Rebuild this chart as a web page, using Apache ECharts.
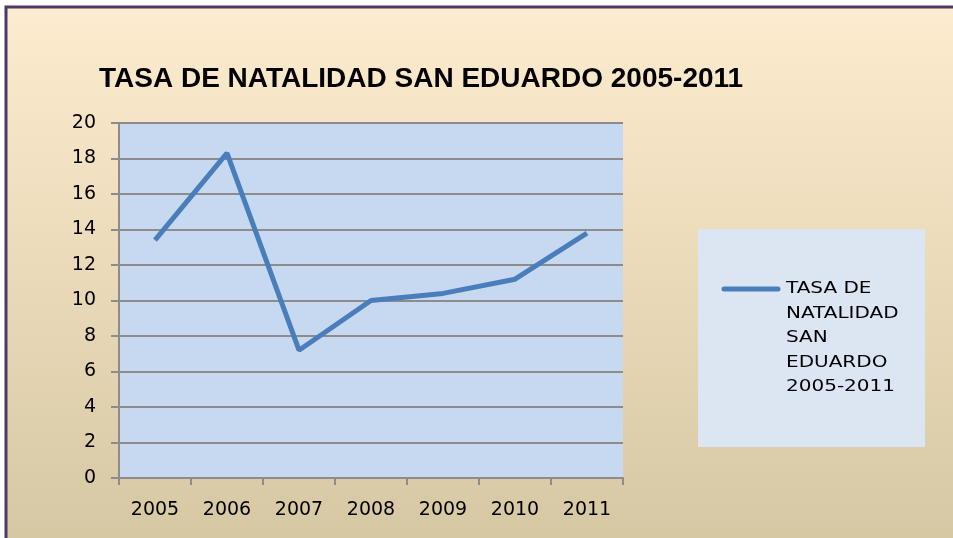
<!DOCTYPE html>
<html>
<head>
    <meta charset="utf-8">
    <title>Tasa de natalidad San Eduardo</title>
    <script src="https://cdn.jsdelivr.net/npm/echarts@6/dist/echarts.min.js"></script>
    <style>
        html, body {
            margin: 0;
            padding: 0;
            background: #ffffff;
        }

        #main {
            width: 953px;
            height: 538px;
        }
    </style>
</head>
<body>
<div id="main"></div>
<script type="text/javascript">
    var myChart = echarts.init(document.getElementById('main'));

    // datos
    const years = ['2005', '2006', '2007', '2008', '2009', '2010', '2011'];
    const natalidad = [13.4, 18.3, 7.2, 10.0, 10.4, 11.2, 13.8];
    const serieNombre = 'TASA DE NATALIDAD SAN EDUARDO 2005-2011';
    const leyendaLineas = ['TASA DE', 'NATALIDAD', 'SAN', 'EDUARDO', '2005-2011'];

    const lineColor = '#4a7ebb';
    const gridColor = '#8c8c8c';

    var option = {
        backgroundColor: '#ffffff',
        animation: false,
        graphic: [
            {
                type: 'rect',
                z: -10,
                shape: {x: 6, y: 7, width: 1000, height: 600},
                style: {
                    fill: new echarts.graphic.LinearGradient(0, 0, 0, 1, [
                        {offset: 0, color: '#fdeccf'},
                        {offset: 1, color: '#d2c39e'}
                    ]),
                    stroke: '#4b3b63',
                    lineWidth: 3
                }
            },
            // caja de la leyenda
            {
                type: 'rect',
                z: -5,
                shape: {x: 698, y: 229, width: 227, height: 218},
                style: {fill: '#dce6f2'}
            },
            {
                type: 'line',
                shape: {x1: 724, y1: 289, x2: 778, y2: 289},
                style: {stroke: lineColor, lineWidth: 5, lineCap: 'round'}
            },
            {
                type: 'text',
                x: 786,
                y: 277,
                scaleX: 1.25,
                style: {
                    text: leyendaLineas.join('\n'),
                    fontFamily: 'DejaVu Sans',
                    fontSize: 16,
                    lineHeight: 24.5,
                    fill: '#000000',
                    verticalAlign: 'top'
                }
            }
        ],
        title: {
            text: 'TASA DE NATALIDAD SAN EDUARDO 2005-2011',
            left: 94,
            top: 60,
            textStyle: {
                fontFamily: 'Liberation Sans',
                fontWeight: 'bold',
                fontSize: 28,
                color: '#000000'
            }
        },
        legend: {
            show: false,
            data: [serieNombre]
        },
        grid: {
            left: 119,
            right: 330,
            top: 123,
            bottom: 60,
            show: true,
            backgroundColor: '#c6d9f1',
            borderWidth: 0
        },
        xAxis: {
            type: 'category',
            data: years,
            boundaryGap: true,
            axisLine: {lineStyle: {color: gridColor, width: 2}},
            axisTick: {show: true, length: 7, lineStyle: {color: gridColor, width: 2}},
            axisLabel: {
                margin: 23,
                fontFamily: 'DejaVu Sans',
                fontSize: 19,
                color: '#000000'
            }
        },
        yAxis: {
            type: 'value',
            min: 0,
            max: 20,
            interval: 2,
            axisLine: {show: true, lineStyle: {color: gridColor, width: 2}},
            axisTick: {show: true, length: 8, lineStyle: {color: gridColor, width: 2}},
            splitLine: {lineStyle: {color: gridColor, width: 2}},
            axisLabel: {
                margin: 23,
                fontFamily: 'DejaVu Sans',
                fontSize: 19,
                color: '#000000'
            }
        },
        series: [
            {
                name: serieNombre,
                type: 'line',
                data: natalidad,
                symbol: 'none',
                lineStyle: {color: lineColor, width: 5},
                itemStyle: {color: lineColor}
            }
        ]
    };

    myChart.setOption(option);
</script>
</body>
</html>
